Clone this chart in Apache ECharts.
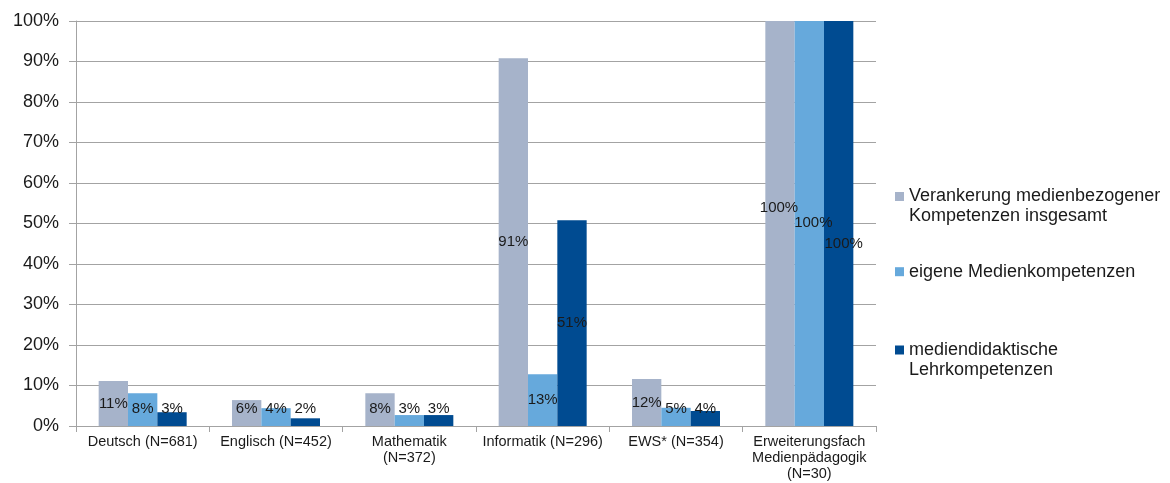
<!DOCTYPE html>
<html>
<head>
<meta charset="utf-8">
<script src="https://cdn.jsdelivr.net/npm/echarts@6/dist/echarts.min.js"></script>
<style>
html,body{margin:0;padding:0;background:#fff;}
#chart{width:1170px;height:483px;}
</style>
</head>
<body>
<div id="chart"></div>
<script>
var categories = [
  'Deutsch (N=681)',
  'Englisch (N=452)',
  'Mathematik\n(N=372)',
  'Informatik (N=296)',
  'EWS* (N=354)',
  'Erweiterungsfach\nMedienpädagogik\n(N=30)'
];
var seriesNames = [
  'Verankerung medienbezogener\nKompetenzen insgesamt',
  'eigene Medienkompetenzen',
  'mediendidaktische\nLehrkompetenzen'
];
var valuesGesamt = [11.1, 6.4, 8.1, 90.8, 11.6, 100];
var valuesEigene = [8.1, 4.4, 2.7, 12.8, 4.5, 100];
var valuesDidaktik = [3.4, 1.9, 2.7, 50.8, 3.7, 100];
var yTicks = [0, 10, 20, 30, 40, 50, 60, 70, 80, 90, 100];

var colors = ['#A6B3CA', '#66A9DC', '#004B91'];
var FONT = 'Liberation Sans, Arial, sans-serif';
var TEXT = '#1a1a1a';
var GRID = '#a3a3a3';
// label offsets for the full (100%) bars, mimicking overlap avoidance
var fullOffsets = [[-1, -16], [4, -1], [5, 20]];

function buildData(vals, si) {
  return vals.map(function (v) {
    var item = { value: v };
    if (v >= 100) {
      item.label = { position: 'inside', offset: fullOffsets[si] };
    } else if (v < 8.9) {
      item.label = { position: 'insideBottom', distance: 10 };
    }
    return item;
  });
}

var allVals = [valuesGesamt, valuesEigene, valuesDidaktik];
var series = allVals.map(function (vals, si) {
  return {
    name: seriesNames[si],
    type: 'bar',
    data: buildData(vals, si),
    barGap: '0%',
    barCategoryGap: '34%',
    itemStyle: { color: colors[si] },
    label: {
      show: true,
      position: 'inside',
      color: TEXT,
      fontFamily: FONT,
      fontSize: 15,
      formatter: function (p) { return Math.round(p.value) + '%'; }
    },
    emphasis: { disabled: true }
  };
});

var legendTops = [186.5, 261.7, 340];
var legends = seriesNames.map(function (n, i) {
  var twoLine = n.indexOf('\n') >= 0;
  return {
    data: [{ name: n, icon: twoLine ? 'path://M0,0M0,5.5h9v9h-9zM9,40' : 'rect' }],
    orient: 'vertical',
    left: 895,
    top: legendTops[i],
    itemWidth: 9,
    itemHeight: twoLine ? 40 : 9,
    selectedMode: false,
    padding: 0,
    textStyle: { fontFamily: FONT, fontSize: 18, color: TEXT, lineHeight: 20 }
  };
});

var chart = echarts.init(document.getElementById('chart'), null, { renderer: 'canvas' });
chart.setOption({
  animation: false,
  backgroundColor: '#ffffff',
  grid: { left: 76, right: 294, top: 21, bottom: 57, containLabel: false },
  legend: legends,
  xAxis: {
    type: 'category',
    data: categories,
    axisLine: { lineStyle: { color: GRID, width: 1 } },
    axisTick: { show: true, length: 6, lineStyle: { color: GRID } },
    axisLabel: { interval: 0, fontFamily: FONT, fontSize: 14.5, color: TEXT, lineHeight: 16, margin: 8 }
  },
  yAxis: {
    type: 'value',
    min: 0,
    max: 100,
    interval: 10,
    axisLine: { show: true, lineStyle: { color: GRID, width: 1 } },
    axisTick: { show: true, length: 7, lineStyle: { color: GRID } },
    splitLine: { show: true, lineStyle: { color: GRID, width: 1 } },
    axisLabel: {
      fontFamily: FONT, fontSize: 18, color: TEXT, margin: 17,
      formatter: function (v) { return yTicks.indexOf(v) >= 0 ? v + '%' : ''; }
    }
  },
  series: series
});
</script>
</body>
</html>
